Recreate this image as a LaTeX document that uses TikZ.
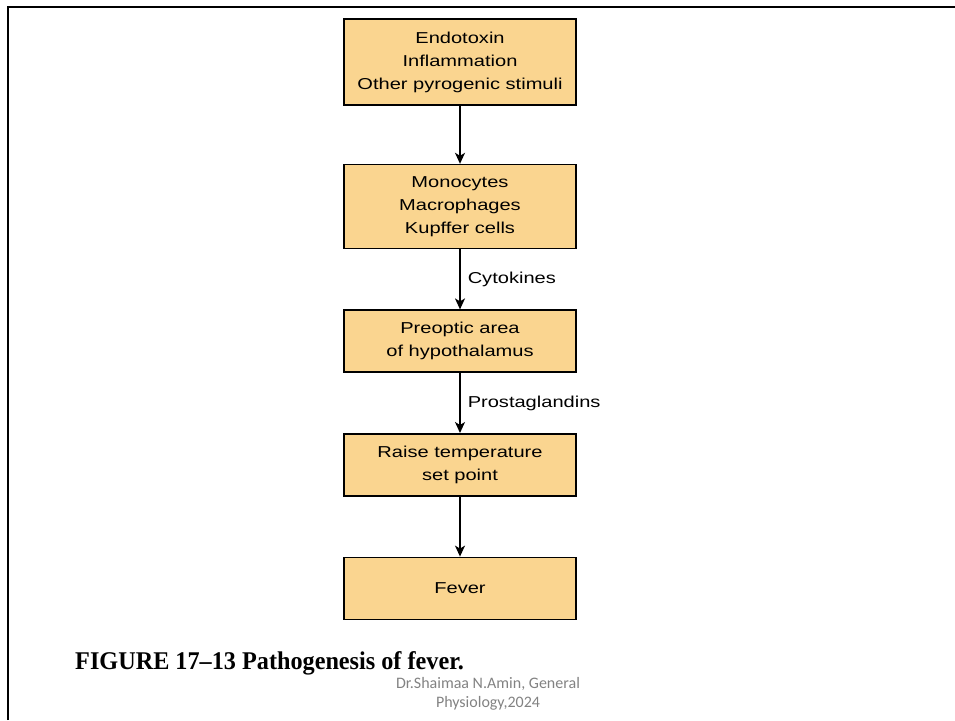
\documentclass[tikz,border=0pt]{standalone}
\usepackage{fontspec}
\setmainfont{Liberation Sans}
\newfontfamily\boxfont[FakeStretch=1.27]{Liberation Sans}
\newfontfamily\capfont[FakeStretch=0.95]{Liberation Serif}
\newfontfamily\notefont{Carlito}
\usepackage{tikz}
\usetikzlibrary{arrows.meta,positioning}
\definecolor{boxfill}{RGB}{250,213,144}
\definecolor{notegray}{RGB}{130,130,130}

\begin{document}
\begin{tikzpicture}[x=1pt,y=-1pt,node distance=60pt,
   stepbox/.style={draw, line width=1.6pt, fill=boxfill, minimum width=232pt,
      minimum height=62pt, align=center, inner sep=0pt,
      font=\boxfont\fontsize{15.8}{23}\selectfont},
   arr/.style={-{Stealth[length=11pt,width=10pt,inset=3pt]}, line width=1.5pt},
   lbl/.style={right=7pt, inner sep=0pt, font=\boxfont\fontsize{15.8}{23}\selectfont}]
   \useasboundingbox (0,0) rectangle (955,720);
   \draw[line width=2.5pt] (8,720) -- (8,7) -- (955,7);

   \node[stepbox, minimum height=86pt] (stimuli) at (460,62) {Endotoxin\\Inflammation\\Other pyrogenic stimuli};
   \node[stepbox, minimum height=84pt] (cells)    [below=58pt of stimuli] {Monocytes\\Macrophages\\Kupffer cells};
   \node[stepbox]                      (preoptic) [below=of cells]        {Preoptic area\\of hypothalamus};
   \node[stepbox]                      (setpoint) [below=of preoptic]     {Raise temperature\\set point};
   \node[stepbox]                      (fever)    [below=of setpoint]     {Fever};

   \path[arr]
    (stimuli)  edge (cells)
    (cells)    edge node[lbl] {Cytokines} (preoptic)
    (preoptic) edge node[lbl] {Prostaglandins} (setpoint)
    (setpoint) edge (fever);

   \node[anchor=base west, inner sep=0pt, font=\capfont\bfseries\fontsize{25.5}{30}\selectfont]
      (caption) at (75,669) {FIGURE 17–13 Pathogenesis of fever.};
   \node[align=center, inner sep=0pt, text=notegray, font=\notefont\fontsize{16}{19}\selectfont]
      (credit) at (488,694) {Dr.Shaimaa N.Amin, General\\Physiology,2024};
\end{tikzpicture}
\end{document}
